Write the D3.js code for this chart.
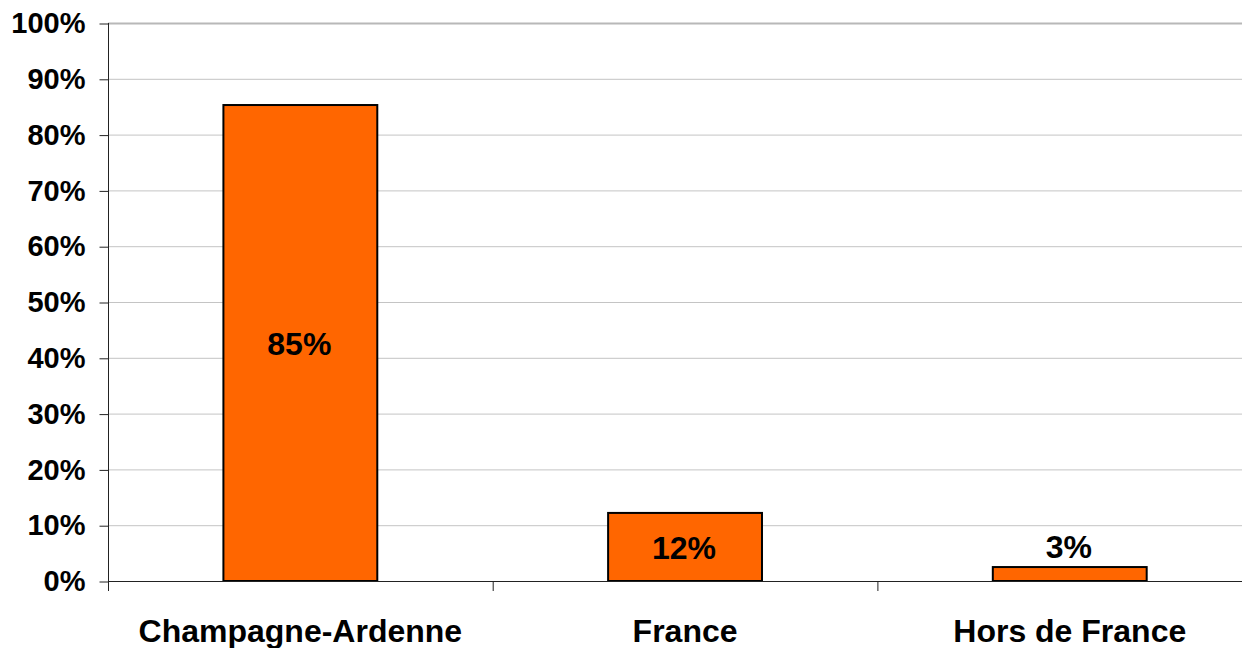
<!DOCTYPE html>
<html>
<head>
<meta charset="utf-8">
<script src="https://cdn.jsdelivr.net/npm/d3@7/dist/d3.min.js"></script>
<style>
    html, body { margin: 0; padding: 0; background: #fff; overflow: hidden; }
    svg { display: block; font-family: "Liberation Sans", Arial, sans-serif; font-weight: bold; }
</style>
</head>
<body>
<div id="chart"></div>
<script>
// data
const categories = ["Champagne-Ardenne", "France", "Hors de France"];
const shares = [85.3, 12.2, 2.5];
const shareLabels = ["85%", "12%", "3%"];
const yTicks = [0, 10, 20, 30, 40, 50, 60, 70, 80, 90, 100];

const W = 1242, H = 648;
const plot = { left: 108, top: 23, bottom: 581, step: 384.7 };

const svg = d3.select("#chart").append("svg")
    .attr("width", W)
    .attr("height", H);

const x = d3.scaleBand()
    .domain(categories)
    .range([plot.left, plot.left + plot.step * categories.length])
    .padding(0);

const y = d3.scaleLinear()
    .domain([0, 100])
    .range([plot.bottom, plot.top]);

const barW = x.bandwidth() * 0.4;

// gridlines
svg.append("g")
    .selectAll("line")
    .data(yTicks.filter(d => d > 0))
    .enter().append("line")
    .attr("x1", plot.left)
    .attr("x2", W)
    .attr("y1", d => y(d) + 0.5)
    .attr("y2", d => y(d) + 0.5)
    .attr("stroke", d => d === 100 ? "#b8b8b8" : "#c4c4c4")
    .attr("stroke-width", d => d === 100 ? 2 : 1);

// y axis
const yAxis = svg.append("g")
    .attr("transform", `translate(${plot.left + 0.5},0.5)`)
    .call(d3.axisLeft(y).tickValues(yTicks).tickSize(9).tickPadding(14).tickFormat(d => d + "%"));
yAxis.select(".domain").remove();
yAxis.selectAll(".tick line").attr("stroke", "#222");
yAxis.selectAll("text")
    .attr("fill", "#000")
    .style("font-size", "29px")
    .style("font-weight", "bold")
    .style("font-family", "'Liberation Sans', Arial, sans-serif");

svg.append("line")
    .attr("x1", plot.left + 0.5)
    .attr("x2", plot.left + 0.5)
    .attr("y1", plot.top)
    .attr("y2", plot.bottom + 10)
    .attr("stroke", "#222");

// bars
svg.append("g")
    .selectAll("rect")
    .data(categories)
    .enter().append("rect")
    .attr("x", d => x(d) + (x.bandwidth() - barW) / 2)
    .attr("y", (d, i) => y(shares[i]))
    .attr("width", barW)
    .attr("height", (d, i) => y(0) - y(shares[i]))
    .attr("fill", "#ff6600")
    .attr("stroke", "#000")
    .attr("stroke-width", 2);

// x axis line and ticks
svg.append("line")
    .attr("x1", plot.left)
    .attr("x2", W)
    .attr("y1", plot.bottom + 0.5)
    .attr("y2", plot.bottom + 0.5)
    .attr("stroke", "#222");

svg.append("g")
    .selectAll("line")
    .data(categories.slice(1))
    .enter().append("line")
    .attr("x1", d => x(d) + 0.5)
    .attr("x2", d => x(d) + 0.5)
    .attr("y1", plot.bottom)
    .attr("y2", plot.bottom + 10)
    .attr("stroke", "#222");

// category labels
svg.append("g")
    .selectAll("text")
    .data(categories)
    .enter().append("text")
    .attr("x", d => x(d) + x.bandwidth() / 2)
    .attr("y", 642)
    .attr("text-anchor", "middle")
    .style("font-size", "32px")
    .text(d => d);

// value labels, above the bar when it is too short
svg.append("g")
    .selectAll("text")
    .data(categories)
    .enter().append("text")
    .attr("x", d => x(d) + x.bandwidth() / 2 - 1)
    .attr("y", (d, i) => {
        const top = y(shares[i]);
        return (plot.bottom - top) < 40 ? top - 9 : (top + plot.bottom) / 2 + 12;
    })
    .attr("text-anchor", "middle")
    .style("font-size", "32px")
    .text((d, i) => shareLabels[i]);
</script>
</body>
</html>
